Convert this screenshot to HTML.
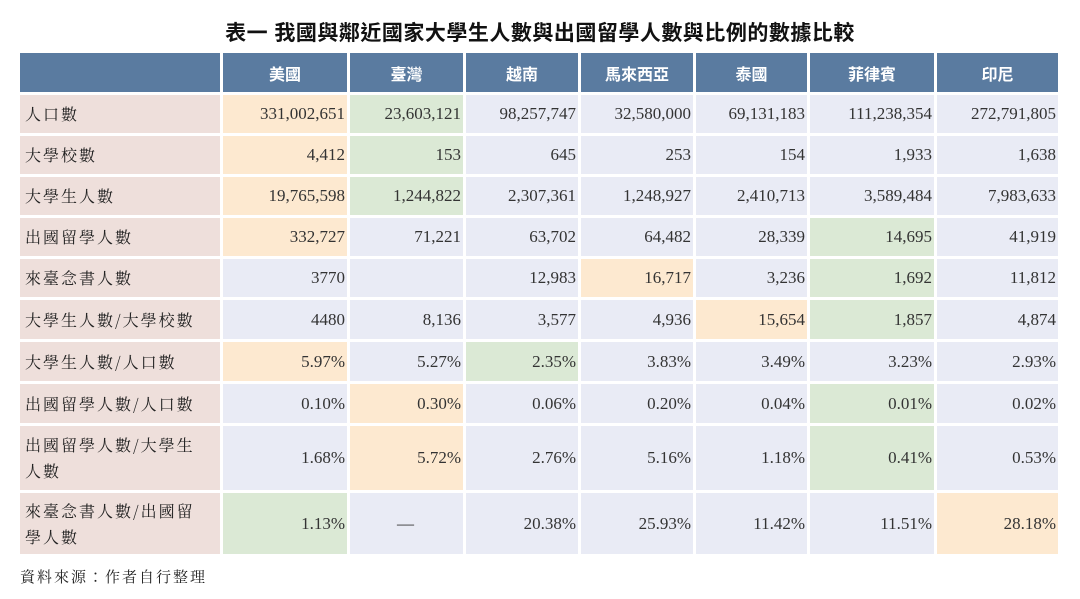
<!DOCTYPE html>
<html><head><meta charset="utf-8">
<style>
body{margin:0;width:1080px;height:599px;background:#fff;position:relative;overflow:hidden;font-family:"Liberation Serif","Noto Serif CJK SC",serif;}
.t{position:absolute;left:0;width:1080px;top:17px;text-align:center;font-size:21px;font-weight:bold;font-family:"Liberation Sans","Noto Sans CJK TC",sans-serif;color:#111;letter-spacing:0.5px}
.c{position:absolute;box-sizing:border-box;display:flex;align-items:center;font-size:17px;color:#333;}
.h{background:#5a7ba0;color:#fff;justify-content:center;font-weight:bold;font-family:"Liberation Sans","Noto Sans CJK TC",sans-serif;font-size:16px}
.l{background:#eedfdb;padding-left:5px;font-family:"Noto Serif CJK TC","Noto Serif CJK SC",serif;font-size:16px;letter-spacing:2px;line-height:26px;color:#222}
.v{justify-content:flex-end;padding-right:2px;background:#e9ebf5}
.o{background:#fde9d0}.g{background:#dbe9d5}
.s{position:absolute;left:20px;top:566px;font-size:15px;font-family:"Noto Serif CJK TC","Noto Serif CJK SC",serif;letter-spacing:2px;color:#222}
</style></head><body>
<div class="t">表一  我國與鄰近國家大學生人數與出國留學人數與比例的數據比較</div>
<div id="tbl"></div>
<div class="s">資料來源：作者自行整理</div>
<script>
const countries=["美國","臺灣","越南","馬來西亞","泰國","菲律賓","印尼"];
const rowLabels=["人口數","大學校數","大學生人數","出國留學人數","來臺念書人數","大學生人數/大學校數","大學生人數/人口數","出國留學人數/人口數","出國留學人數/大學生<br>人數","來臺念書人數/出國留<br>學人數"];
const values=[
["331,002,651","23,603,121","98,257,747","32,580,000","69,131,183","111,238,354","272,791,805"],
["4,412","153","645","253","154","1,933","1,638"],
["19,765,598","1,244,822","2,307,361","1,248,927","2,410,713","3,589,484","7,983,633"],
["332,727","71,221","63,702","64,482","28,339","14,695","41,919"],
["3770","","12,983","16,717","3,236","1,692","11,812"],
["4480","8,136","3,577","4,936","15,654","1,857","4,874"],
["5.97%","5.27%","2.35%","3.83%","3.49%","3.23%","2.93%"],
["0.10%","0.30%","0.06%","0.20%","0.04%","0.01%","0.02%"],
["1.68%","5.72%","2.76%","5.16%","1.18%","0.41%","0.53%"],
["1.13%","—","20.38%","25.93%","11.42%","11.51%","28.18%"]];
const hl=[["o","g"],["o","g"],["o","g"],["o",,,,,"g"],[,,,"o",,"g"],[,,,,"o","g"],["o",,"g"],[,"o",,,,"g"],[,"o",,,,"g"],["g",,,,,,"o"]];
const colX=[20,223,350,466,581,696,810,937,1061];
const rowY=[53,95,136,177,218,259,300,342,384,426,493,557];
const T=document.getElementById('tbl');
function cell(x0,x1,y0,y1,cls,html){const d=document.createElement('div');d.className='c '+cls;d.style.left=x0+'px';d.style.width=(x1-x0-3)+'px';d.style.top=y0+'px';d.style.height=(y1-y0-3)+'px';d.innerHTML=html;T.appendChild(d);return d;}
let e=cell(colX[0],colX[1],rowY[0],rowY[1],'h','');


countries.forEach((c,i)=>{const d=cell(colX[i+1],colX[i+2],rowY[0],rowY[1],'h',c);

});
rowLabels.forEach((r,j)=>{const d=cell(colX[0],colX[1],rowY[j+1],rowY[j+2],'l',r);


values[j].forEach((v,i)=>{const k=(hl[j]&&hl[j][i])||'';const x=cell(colX[i+1],colX[i+2],rowY[j+1],rowY[j+2],'v '+k,v);
if(v==='—'){x.style.justifyContent='center';}

});});
</script>
</body></html>
